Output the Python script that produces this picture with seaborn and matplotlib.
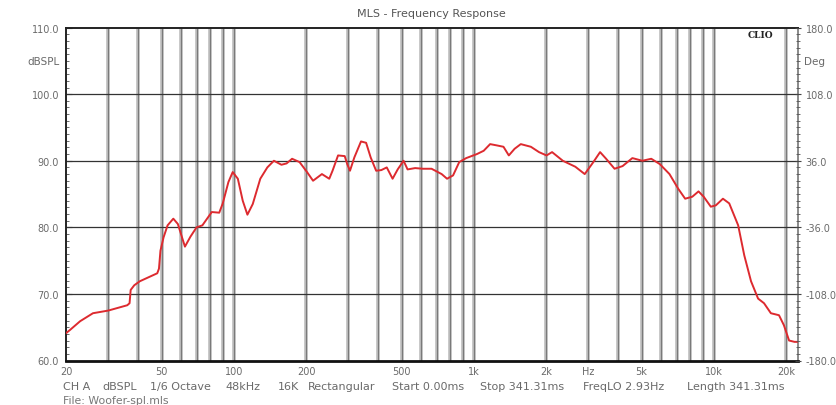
import numpy as np
import pandas as pd
import matplotlib
matplotlib.use("Agg")
import matplotlib.pyplot as plt
import seaborn as sns

freq_hz = [20, 20.8, 22.9, 25.9, 30, 36, 36.8, 37.2, 38.5, 40.6, 48, 48.8, 49.5, 51, 53, 56,
           58.5, 62.6, 66, 70, 74, 81, 87, 90, 95, 99, 104, 109, 114, 120, 129, 138, 147,
           158, 166, 175, 188, 202, 214, 233, 250, 258, 272, 290, 297, 305, 318, 339, 356,
           372, 392, 412, 434, 459, 482, 510, 530, 570, 614, 667, 735, 774, 820, 870, 930,
           1030, 1100, 1170, 1250, 1330, 1400, 1480, 1570, 1730, 1870, 2010, 2120, 2350,
           2650, 2900, 3150, 3360, 3560, 3860, 4170, 4580, 5040, 5490, 5960, 6540, 7110,
           7600, 8140, 8640, 9080, 9720, 10200, 10920, 11600, 12640, 13400, 14300, 15300,
           16200, 17300, 18700, 19600, 20600, 21700, 22440]
spl_db = [64.1, 64.6, 65.9, 67.1, 67.5, 68.3, 68.6, 70.6, 71.3, 71.9, 73.1, 73.8, 76.5, 78.5,
          80.3, 81.3, 80.5, 77.1, 78.6, 80.0, 80.3, 82.3, 82.2, 83.6, 86.8, 88.3, 87.3, 84.0,
          81.9, 83.5, 87.3, 89.0, 90.0, 89.4, 89.6, 90.3, 89.8, 88.3, 87.0, 88.0, 87.3, 88.5,
          90.8, 90.7, 89.5, 88.5, 90.5, 92.9, 92.7, 90.5, 88.5, 88.6, 89.0, 87.3, 88.7, 90.0,
          88.7, 88.9, 88.8, 88.8, 88.0, 87.3, 87.8, 89.8, 90.4, 91.0, 91.5, 92.5, 92.3, 92.1,
          90.8, 91.8, 92.5, 92.1, 91.3, 90.8, 91.3, 90.0, 89.1, 88.0, 89.8, 91.3, 90.3, 88.8,
          89.2, 90.4, 90.0, 90.3, 89.5, 88.0, 85.8, 84.3, 84.6, 85.4, 84.6, 83.1, 83.3, 84.3,
          83.6, 80.3, 75.8, 71.9, 69.3, 68.6, 67.1, 66.8, 65.3, 63.0, 62.8, 62.8]

x_tick_vals = [20, 50, 100, 200, 500, 1000, 2000, 3000, 5000, 10000, 20000]
x_tick_labels = ["20", "50", "100", "200", "500", "1k", "2k", "Hz", "5k", "10k", "20k"]
vgrid_freqs = [30, 40, 50, 60, 70, 80, 90, 100, 200, 300, 400, 500, 600, 700, 800, 900,
               1000, 2000, 3000, 4000, 5000, 6000, 7000, 8000, 9000, 10000, 20000]
left_ticks = [60, 70, 80, 90, 100, 110]
right_ticks = [-180, -108, -36, 36, 108, 180]

title = "MLS - Frequency Response"
footer_items = ["CH A", "dBSPL", "1/6 Octave", "48kHz", "16K", "Rectangular",
                "Start 0.00ms", "Stop 341.31ms", "FreqLO 2.93Hz", "Length 341.31ms"]
footer_x = [63, 102, 150, 225, 278, 308, 392, 480, 583, 687]
file_line = "File: Woofer-spl.mls"

sns.set_style("white")
plt.rcParams['font.family'] = ['DejaVu Sans']

W, H = 837, 406
fig = plt.figure(figsize=(W / 100, H / 100), dpi=100)
left, right, top, bottom = 66, 798, 28.6, 361.5
ax = fig.add_axes([left / W, 1 - bottom / H, (right - left) / W, (bottom - top) / H])

df = pd.DataFrame({"freq": freq_hz, "spl": spl_db})

ax.set_xscale("log")
ax.set_xlim(20, 22440)
ax.set_ylim(60, 110)

for f in vgrid_freqs:
    ax.axvline(f, color="#bdbdbd", lw=2.6, zorder=1)
    ax.axvline(f, color="#7a7a7a", lw=0.8, zorder=1.1)
for yv in [70, 80, 90, 100]:
    ax.axhline(yv, color="#333333", lw=0.9, zorder=1.2)

sns.lineplot(data=df, x="freq", y="spl", ax=ax, color="#dd2a2f", lw=1.4, zorder=3)

txt_col = "#6a6a6a"
ax.set_xlabel("")
ax.set_ylabel("")
ax.set_xticks(x_tick_vals)
ax.set_xticklabels(x_tick_labels)
ax.xaxis.set_minor_locator(matplotlib.ticker.NullLocator())
ax.set_yticks(left_ticks)
ax.set_yticklabels([f"{v:.1f}" for v in left_ticks])
ax.set_yticks(np.arange(60, 111, 1), minor=True)
ax.tick_params(axis="x", which="major", length=0, pad=4, labelsize=7, labelcolor=txt_col)
ax.tick_params(axis="y", which="major", direction="in", length=4, pad=5, labelsize=7,
               labelcolor=txt_col, color="#333333")
ax.tick_params(axis="y", which="minor", direction="in", length=2.5, color="#555555")

for s in ["left", "top"]:
    ax.spines[s].set_color("#222222")
    ax.spines[s].set_linewidth(1.4)
ax.spines["bottom"].set_color("#111111")
ax.spines["bottom"].set_linewidth(2.0)
ax.spines["right"].set_color("#777777")
ax.spines["right"].set_linewidth(1.2)

ax2 = ax.twinx()
ax2.set_ylim(-180, 180)
ax2.set_yticks(right_ticks)
ax2.set_yticklabels([f"{v:.1f}" for v in right_ticks])
ax2.set_yticks(np.arange(-180, 181, 7.2), minor=True)
ax2.tick_params(axis="y", which="major", direction="inout", length=5, pad=3, labelsize=7,
                labelcolor=txt_col, color="#444444")
ax2.tick_params(axis="y", which="minor", direction="inout", length=3, color="#555555")
for s in ax2.spines.values():
    s.set_visible(False)

fig.text(431 / W, 1 - 14 / H, title, ha="center", va="center", fontsize=8, color="#555555")
fig.text(60 / W, 1 - 62 / H, "dBSPL", ha="right", va="center", fontsize=7.5, color=txt_col)
fig.text(804 / W, 1 - 62 / H, "Deg", ha="left", va="center", fontsize=7.5, color=txt_col)
fig.text(773 / W, 1 - 35 / H, "CLIO", ha="right", va="center", fontsize=6.5,
         fontweight="bold", family="DejaVu Serif", color="#222222")
for item, xp in zip(footer_items, footer_x):
    fig.text(xp / W, 1 - 387 / H, item, ha="left", va="center", fontsize=8, color=txt_col)
fig.text(63 / W, 1 - 401.5 / H, file_line, ha="left", va="center", fontsize=7.8, color="#777777")

fig.savefig("out.png", dpi=100, facecolor="white")
